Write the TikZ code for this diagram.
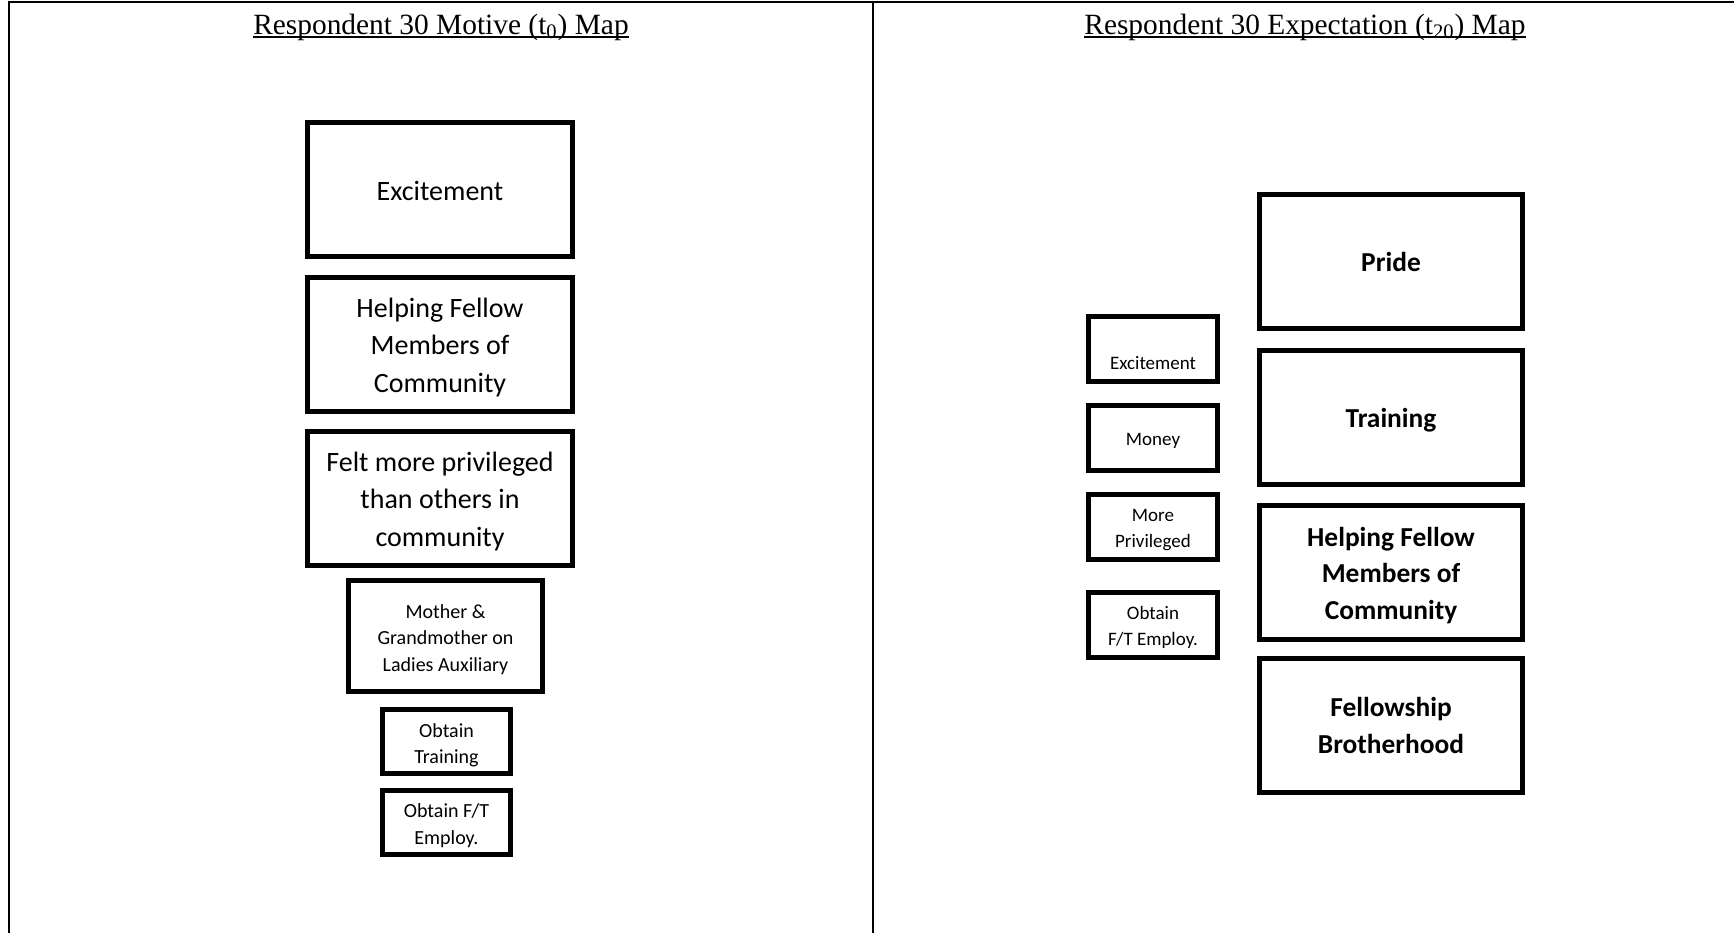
\documentclass[tikz,border=0pt]{standalone}
\usepackage{fontspec}
\setmainfont{Liberation Serif}
\newfontfamily\boxfont{Carlito}
\usetikzlibrary{positioning}

\begin{document}
\begin{tikzpicture}[x=0.5pt, y=-0.5pt,
    mapbox/.style={draw, line width=2.5pt, inner sep=0pt, align=center, text depth=0pt},
    bigbox/.style={mapbox, minimum width=132.5pt, minimum height=67pt,
        text height={(#1-1)*18.75pt+10.8pt},
        font=\boxfont\fontsize{14}{18.75}\selectfont},
    bigbox/.default=1,
    boldbox/.style={mapbox, minimum width=131.5pt, minimum height=67pt,
        text height={(#1-1)*18.3pt+10.2pt},
        font=\boxfont\bfseries\fontsize{13.7}{18.3}\selectfont},
    boldbox/.default=1,
    smallbox/.style={mapbox, minimum width=64pt, minimum height=32pt,
        text height={(#1-1)*13.3pt+8.9pt},
        font=\boxfont\fontsize{10}{13.3}\selectfont},
    smallbox/.default=2,
    tinybox/.style={mapbox, minimum width=64.5pt, minimum height=32.5pt,
        text height={(#1-1)*12.8pt+7.7pt},
        font=\boxfont\fontsize{9.5}{12.8}\selectfont},
    tinybox/.default=2,
    maptitle/.style={anchor=base, inner sep=0pt, font=\fontsize{14.7}{17}\selectfont},
    rule/.style={line width=1pt}]
    \useasboundingbox (0,0) rectangle (1734,933);

    % Frame of the table
    \coordinate (tl) at (8.5,2);
    \coordinate (tr) at (1734,2);
    \coordinate (bl) at (8.5,933);
    \coordinate (dt) at (873,2);
    \coordinate (db) at (873,933);
    \draw[rule] (tr) -- (tl) -- (bl);
    \draw[rule] (dt) -- (db);

    % Titles, underlined
    \node[maptitle] (t1) at (441,34) {Respondent 30 Motive (t\textsubscript{0}) Map};
    \node[maptitle] (t2) at (1305,34) {Respondent 30 Expectation (t\textsubscript{20}) Map};
    \draw[line width=1.1pt] ([yshift=-1.6pt]t1.base west) -- ([yshift=-1.6pt]t1.base east);
    \draw[line width=1.1pt] ([yshift=-1.6pt]t2.base west) -- ([yshift=-1.6pt]t2.base east);

    % Motive map
    \node[bigbox] (m1) at (440,189.5) {Excitement};
    \node[bigbox=3] (m2) at (440,344) {Helping Fellow\\Members of\\Community};
    \node[bigbox=3] (m3) at (440,498) {Felt more privileged\\than others in\\community};
    \node[smallbox=3, minimum width=97pt, minimum height=55.5pt] (m4) at (445.5,636) {Mother \&\\Grandmother on\\Ladies Auxiliary};
    \node[smallbox] (m5) at (446.5,741.5) {Obtain\\Training};
    \node[smallbox] (m6) at (446.5,822) {Obtain F/T\\Employ.};

    % Expectation map
    \node[boldbox] (e1) at (1391,261.5) {Pride};
    \node[boldbox] (e2) at (1391,417.5) {Training};
    \node[boldbox=3] (e3) at (1391,572.5) {Helping Fellow\\Members of\\Community};
    \node[boldbox=2] (e4) at (1391,725) {Fellowship\\Brotherhood};
    \node[tinybox] (e5) at (1153,349) {~\\Excitement};
    \node[tinybox=1] (e6) at (1153,438) {Money};
    \node[tinybox] (e7) at (1153,527) {More\\Privileged};
    \node[tinybox] (e8) at (1153,625) {Obtain\\F/T Employ.};
\end{tikzpicture}
\end{document}
